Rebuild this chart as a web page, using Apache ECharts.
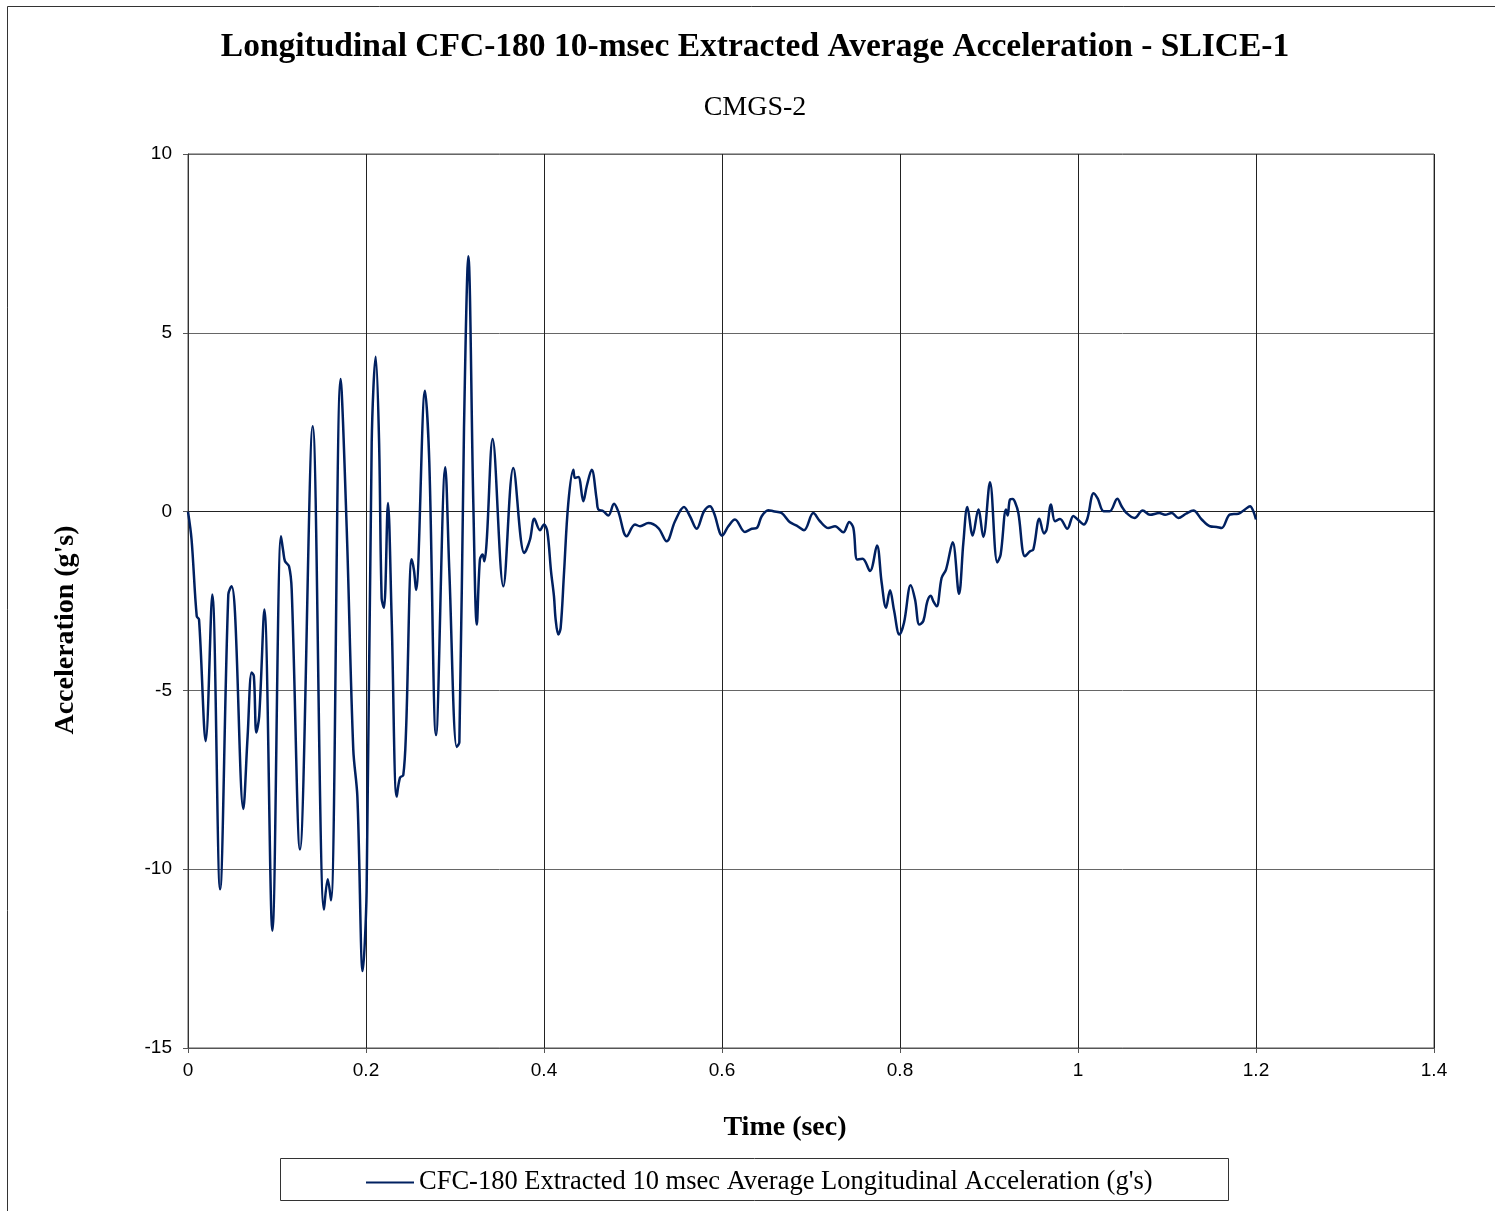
<!DOCTYPE html>
<html>
<head>
<meta charset="utf-8">
<script src="https://cdn.jsdelivr.net/npm/echarts@6/dist/echarts.min.js"></script>
<style>
html,body{margin:0;padding:0;background:#fff;}
#chart{width:1495px;height:1211px;}
</style>
</head>
<body>
<div id="chart"></div>
<script>
const titleText = "Longitudinal CFC-180 10-msec Extracted Average Acceleration - SLICE-1";
const subtitleText = "CMGS-2";
const seriesName = "CFC-180 Extracted 10 msec Average Longitudinal Acceleration (g's)";
const xAxisTitle = "Time (sec)";
const yAxisTitle = "Acceleration (g's)";
const xTicks = [0, 0.2, 0.4, 0.6, 0.8, 1, 1.2, 1.4];
const yTicks = [-15, -10, -5, 0, 5, 10];

const timeSec = [
0,0.004,0.0098,0.0124,0.0199,0.0273,0.036,0.0453,0.049,0.0528,0.0622,0.067,0.0715,0.074,0.0768,0.08,0.0858,0.0948,
0.1045,0.107,0.109,0.1135,0.1165,0.1258,0.1401,0.1528,0.157,0.1607,0.1715,0.1783,0.1857,0.1903,0.1963,0.2007,
0.2064,0.2109,0.2146,0.2176,0.2202,0.2247,0.2288,0.2345,0.2382,0.2419,0.245,0.2513,0.2539,0.2562,0.2663,0.2711,
0.2787,0.2891,0.2936,0.3019,0.3049,0.3101,0.315,0.3206,0.3245,0.328,0.331,0.333,0.3356,0.3423,0.3543,0.3655,
0.3779,0.3843,0.3891,0.3955,0.4,0.4037,0.4079,0.4112,0.4131,0.4161,0.4187,0.4225,0.4273,0.433,0.4348,0.4386,
0.4442,0.448,0.4536,0.4592,0.461,0.4667,0.4723,0.4787,0.4835,0.4929,0.5022,0.5079,0.5172,0.5285,0.5378,0.5472,
0.5573,0.564,0.5715,0.5798,0.5865,0.591,0.6003,0.6071,0.6146,0.6258,0.6334,0.639,0.6446,0.652,0.6577,0.667,
0.6764,0.6839,0.6921,0.7026,0.7101,0.7195,0.727,0.7363,0.743,0.7476,0.752,0.758,0.7663,0.7741,0.7794,0.7843,
0.7888,0.7933,0.7993,0.8045,0.812,0.8169,0.8217,0.8262,0.8307,0.8345,0.8375,0.8412,0.8468,0.8517,0.8592,0.8663,
0.8712,0.8757,0.8817,0.888,0.8936,0.9011,0.9093,0.9131,0.9191,0.921,0.9236,0.9266,0.9293,0.933,0.9404,0.9461,
0.9498,0.9566,0.9618,0.9648,0.9697,0.9742,0.9798,0.988,0.9948,1.0,1.0065,1.0105,1.0176,1.0222,1.0288,1.0356,
1.0442,1.049,1.0545,1.0635,1.0727,1.0809,1.0913,1.0978,1.1053,1.1127,1.1213,1.1296,1.139,1.1483,1.1558,1.1614,
1.1708,1.1802,1.1876,1.1933,1.197,1.2
];
const accelG = [
0,-0.78,-2.92,-3.02,-6.42,-2.32,-10.56,-2.32,-2.09,-2.83,-8.32,-6.27,-4.5,-4.6,-6.18,-5.72,-2.74,-11.72,
-0.69,-1.11,-1.39,-1.53,-2.18,-9.45,2.39,-11.13,-10.28,-10.87,3.71,-0.45,-6.65,-7.97,-12.85,-10.6,
1.93,4.33,2.06,-2.43,-2.69,0.24,-2.96,-7.97,-7.44,-7.37,-6.12,-1.33,-1.64,-2.19,3.38,1.4,
-6.25,1.24,-1.64,-6.58,-6.45,2.32,7.14,0.21,-3.16,-1.34,-1.2,-1.39,-0.83,2.03,-2.09,1.22,
-1.16,-0.78,-0.2,-0.52,-0.36,-0.55,-1.67,-2.37,-3.02,-3.44,-3.25,-1.71,0.24,1.17,0.94,0.97,
0.29,0.71,1.17,0.34,0.06,0.01,-0.11,0.22,0,-0.69,-0.36,-0.41,-0.32,-0.46,-0.83,-0.27,
0.13,-0.13,-0.48,0.01,0.15,-0.04,-0.67,-0.41,-0.22,-0.57,-0.48,-0.46,-0.13,0.04,0.01,-0.04,
-0.3,-0.39,-0.52,-0.04,-0.27,-0.46,-0.41,-0.58,-0.29,-0.46,-1.34,-1.32,-1.66,-0.95,-1.99,-2.69,
-2.2,-2.76,-3.44,-3.11,-2.06,-2.46,-3.16,-3.06,-2.51,-2.35,-2.51,-2.65,-1.85,-1.62,-0.86,-2.3,
-0.87,0.13,-0.67,0.06,-0.71,0.82,-1.42,-1.2,0.06,-0.11,0.34,0.35,0.26,-0.04,-1.25,-1.11,
-1.06,-0.2,-0.61,-0.5,0.2,-0.27,-0.21,-0.48,-0.12,-0.23,-0.36,-0.2,0.51,0.36,0.01,0.01,
0.36,0.15,-0.04,-0.18,0.03,-0.09,-0.04,-0.09,-0.04,-0.18,-0.06,0.03,-0.22,-0.41,-0.43,-0.46,
-0.08,-0.06,0.06,0.15,0.01,-0.22
];

const points = timeSec.map((t, i) => [t, accelG[i]]);
const serif = "'Liberation Serif','Times New Roman',serif";
const sans = "'Liberation Sans',Arial,sans-serif";

const chart = echarts.init(document.getElementById('chart'), null, {renderer: 'canvas'});
chart.setOption({
  animation: false,
  backgroundColor: '#fff',
  title: [
    {text: titleText, left: 750, top: 25, textAlign: 'center',
     textStyle: {fontFamily: serif, fontWeight: 'bold', fontSize: 33.5, color: '#000'}},
    {text: subtitleText, left: 750, top: 89, textAlign: 'center',
     textStyle: {fontFamily: serif, fontWeight: 'normal', fontSize: 28, color: '#000'}}
  ],
  grid: {left: 188, right: 61, top: 154, bottom: 163, show: true, borderColor: '#555', borderWidth: 1},
  xAxis: {
    type: 'value', min: xTicks[0], max: xTicks[xTicks.length - 1], interval: 0.2,
    axisLine: {show: true, onZero: false, lineStyle: {color: '#555', width: 1}},
    axisTick: {show: true, length: 5, lineStyle: {color: '#555'}},
    axisLabel: {color: '#000', fontFamily: sans, fontSize: 19, margin: 13,
      formatter: v => String(Math.round(v * 10) / 10)},
    splitLine: {show: true, lineStyle: {color: '#222', width: 1}}
  },
  yAxis: {
    type: 'value', min: yTicks[0], max: yTicks[yTicks.length - 1], interval: 5,
    axisLine: {show: true, lineStyle: {color: '#333', width: 1}},
    axisTick: {show: true, length: 5, lineStyle: {color: '#555'}},
    axisLabel: {color: '#000', fontFamily: sans, fontSize: 19, margin: 16},
    splitLine: {show: true, lineStyle: {color: ['#666', '#666', '#666', '#222', '#666', '#666'], width: 1}}
  },
  legend: {
    show: true, left: 366, top: 1169, padding: 0, itemWidth: 48, itemHeight: 2, itemGap: 4, icon: 'rect',
    itemStyle: {color: '#002060'},
    textStyle: {fontFamily: serif, fontSize: 26.5, color: '#000'},
    data: [{name: seriesName}]
  },
  graphic: [
    {type: 'rect', shape: {x: 7.5, y: 6.5, width: 1600, height: 1300}, silent: true, z: -10,
     style: {fill: 'none', stroke: '#333', lineWidth: 1}},
    {type: 'rect', shape: {x: 280.5, y: 1158.5, width: 948, height: 42}, silent: true,
     style: {fill: 'none', stroke: '#333', lineWidth: 1}},
    {type: 'text', x: 785, y: 1128, style: {text: xAxisTitle, fontFamily: serif, fontWeight: 'bold',
     fontSize: 28, fill: '#000', textAlign: 'center', textVerticalAlign: 'middle'}},
    {type: 'text', x: 66, y: 630, rotation: Math.PI / 2, style: {text: yAxisTitle, fontFamily: serif,
     fontWeight: 'bold', fontSize: 28, fill: '#000', textAlign: 'center', textVerticalAlign: 'middle'}}
  ],
  series: [{
    name: seriesName, type: 'line', data: points, symbol: 'none', smooth: 0.35,
    lineStyle: {color: '#002060', width: 2.5}, itemStyle: {color: '#002060'}
  }]
});
</script>
</body>
</html>
